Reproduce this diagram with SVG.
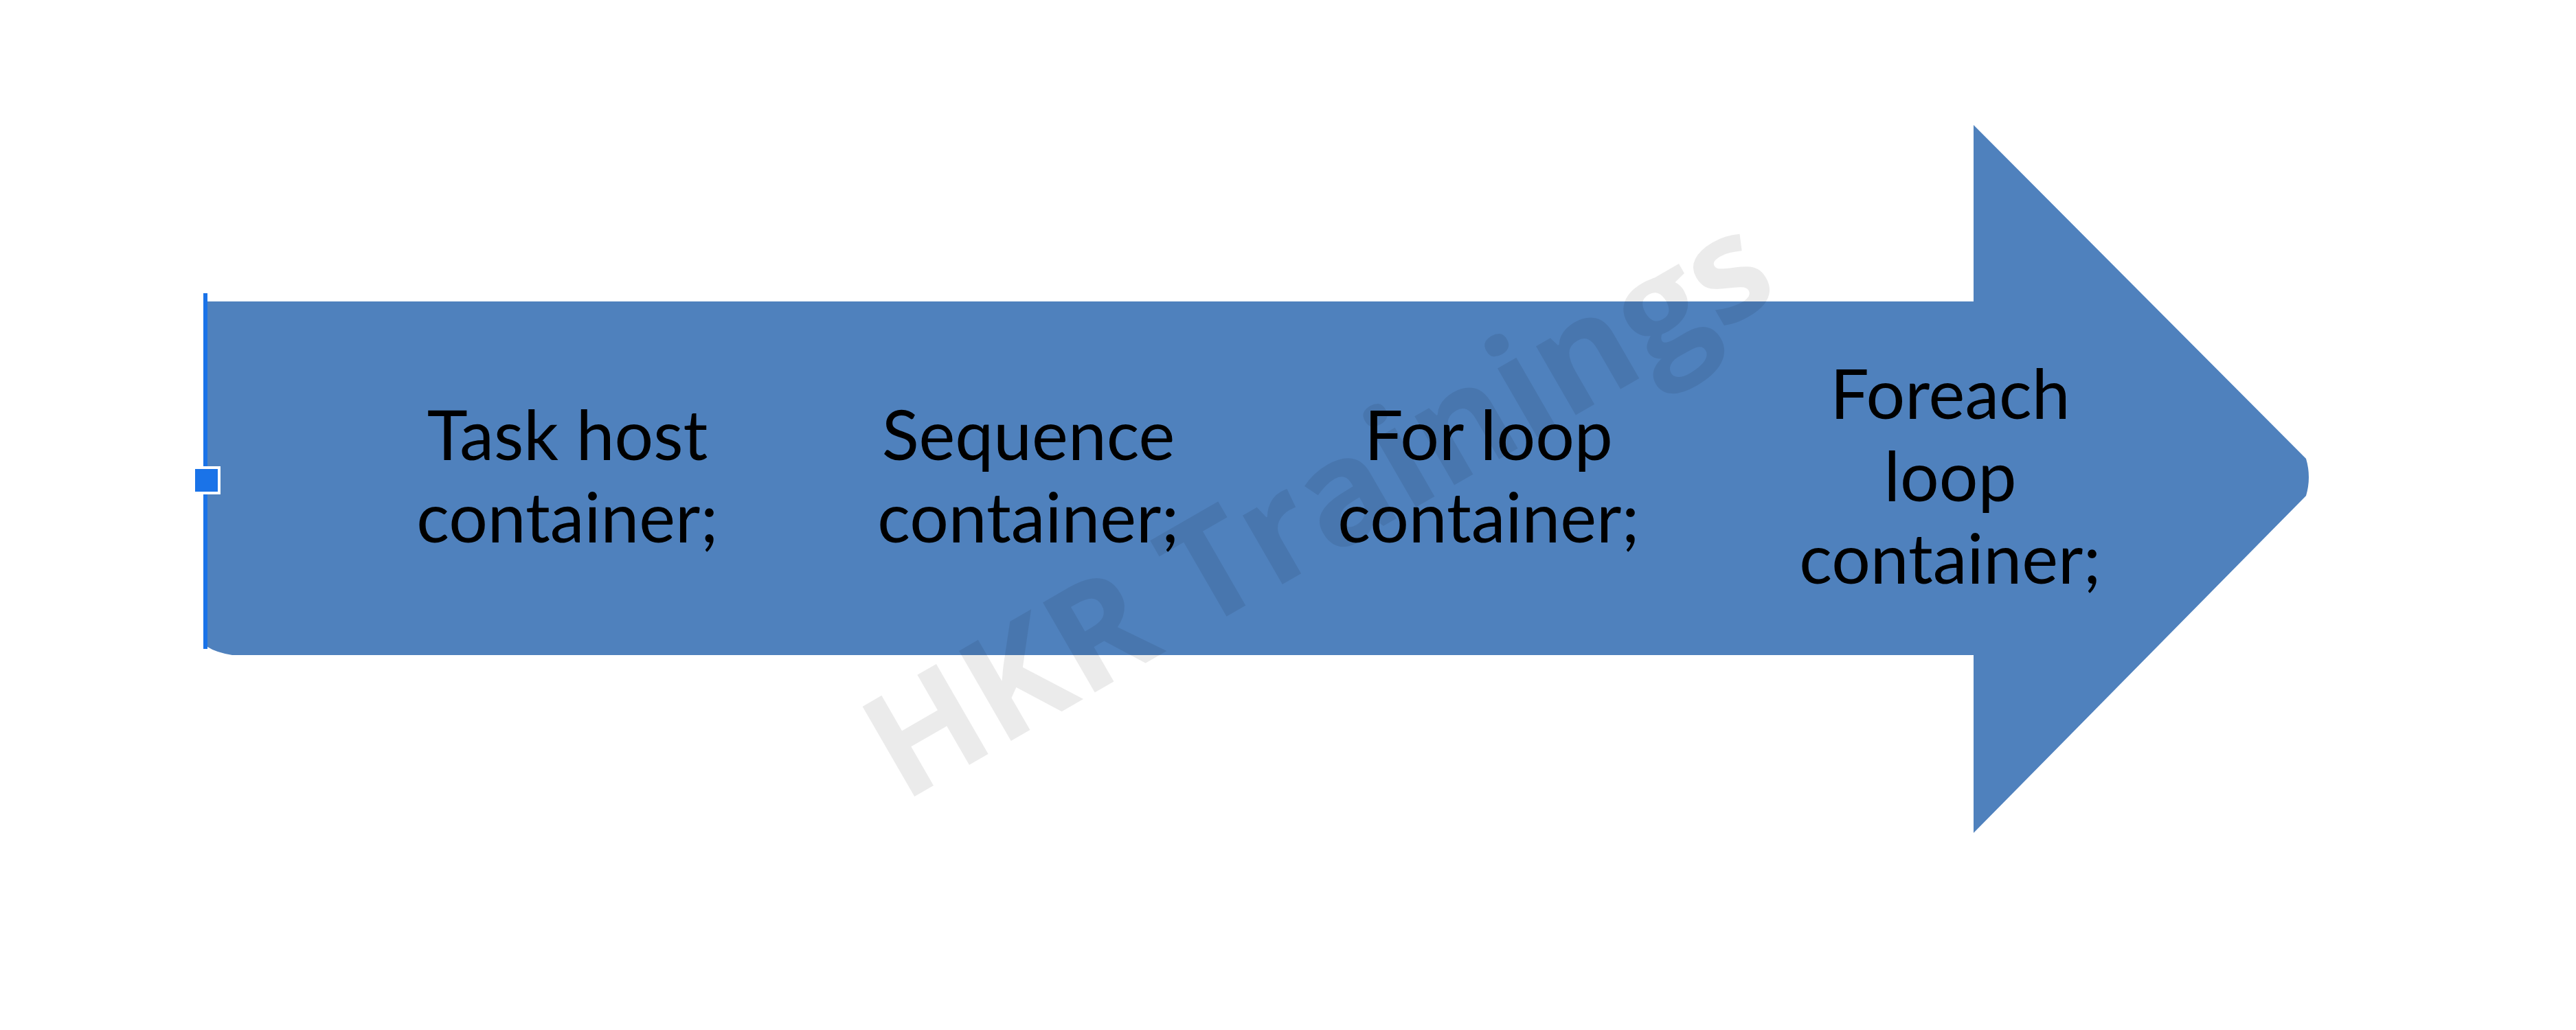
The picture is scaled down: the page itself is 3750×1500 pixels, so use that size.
<svg xmlns="http://www.w3.org/2000/svg" width="3750" height="1500" viewBox="0 0 3750 1500">
<style>
.lbl{font-family:Lato,"Liberation Sans",sans-serif;font-size:100px;fill:#000;text-anchor:middle}
.wm{font-family:"Open Sans","Liberation Sans",sans-serif;font-weight:700;font-size:212px;fill:#000;fill-opacity:0.08;text-anchor:middle}
</style>
<rect x="0" y="0" width="3750" height="1500" fill="#fff"/>
<g id="arrow">
<path d="M302 439 L2873 439 L2873 182 L3357 668 Q3365 695 3357 722 L2873 1213 L2873 954 L338 954 Q314 950 302 942 Z" fill="#4F81BD"/>
</g>
<g id="selection">
<rect x="296" y="427" width="6" height="518" fill="#1a73e8"/>
<rect x="282" y="681" width="37" height="37" fill="#1a73e8" stroke="#fff" stroke-width="4"/>
</g>
<g id="connectors"/>
<g id="node-task-host">
<text class="lbl" x="826" y="670">Task host</text>
<text class="lbl" x="826" y="790">container;</text>
</g>
<g id="node-sequence">
<text class="lbl" x="1497" y="670">Sequence</text>
<text class="lbl" x="1497" y="790">container;</text>
</g>
<g id="node-for-loop">
<text class="lbl" x="2167" y="670">For loop</text>
<text class="lbl" x="2167" y="790">container;</text>
</g>
<g id="node-foreach">
<text class="lbl" x="2839" y="610">Foreach</text>
<text class="lbl" x="2839" y="730">loop</text>
<text class="lbl" x="2839" y="850">container;</text>
</g>
<g id="watermark">
<text class="wm" transform="translate(1955 800) rotate(-30)" x="0" y="0">HKR Trainings</text>
</g>
</svg>
